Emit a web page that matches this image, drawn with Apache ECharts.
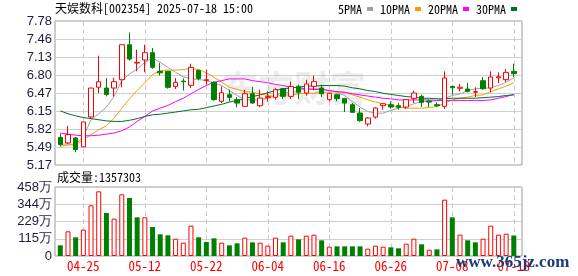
<!DOCTYPE html>
<html><head><meta charset="utf-8">
<script src="https://cdn.jsdelivr.net/npm/echarts@6/dist/echarts.min.js"></script>
<style>html,body{margin:0;padding:0;background:#fff}#c{width:578px;height:276px}</style>
</head><body><div id="c"></div><script>
const dates = ['04-22','04-23','04-24','04-25','04-28','04-29','04-30','05-06','05-07','05-08','05-09','05-12','05-13','05-14','05-15','05-16','05-19','05-20','05-21','05-22','05-23','05-26','05-27','05-28','05-29','05-30','06-03','06-04','06-05','06-06','06-09','06-10','06-11','06-12','06-13','06-16','06-17','06-18','06-19','06-20','06-23','06-24','06-25','06-26','06-27','06-30','07-01','07-02','07-03','07-04','07-07','07-08','07-09','07-10','07-11','07-14','07-15','07-16','07-17','07-18'];
const opens  = [5.67,5.57,5.66,5.50,6.04,6.58,6.565,6.565,6.716,7.35,7.018,7.073,7.205,6.867,6.867,6.595,6.69,6.613,6.885,6.70,6.668,6.324,6.444,6.354,6.233,6.462,6.245,6.39,6.396,6.553,6.414,6.595,6.475,6.595,6.565,6.354,6.444,6.372,6.263,6.112,5.913,6.04,6.245,6.263,6.245,6.22,6.378,6.414,6.33,6.263,6.233,6.595,6.56,6.547,6.49,6.698,6.565,6.75,6.716,6.867];
const closes = [5.54,5.72,5.45,5.95,6.565,6.68,6.45,6.68,7.35,7.09,7.03,7.205,6.94,6.84,6.577,6.668,6.68,6.94,6.74,6.716,6.354,6.48,6.396,6.293,6.462,6.293,6.384,6.41,6.535,6.414,6.595,6.487,6.638,6.68,6.462,6.47,6.372,6.293,6.124,5.973,6.022,6.203,6.28,6.221,6.215,6.354,6.475,6.305,6.31,6.245,6.747,6.57,6.58,6.505,6.50,6.553,6.765,6.77,6.849,6.825];
const lows   = [5.51,5.55,5.40,5.50,6.01,6.475,6.414,6.41,6.577,7.06,6.87,6.85,6.915,6.795,6.553,6.547,6.52,6.565,6.704,6.625,6.336,6.293,6.324,6.215,6.233,6.281,6.22,6.32,6.354,6.366,6.366,6.366,6.426,6.523,6.402,6.324,6.324,6.13,6.112,5.955,5.87,6.01,6.172,6.19,6.172,6.185,6.293,6.22,6.22,6.22,6.185,6.444,6.505,6.487,6.402,6.535,6.487,6.656,6.68,6.765];
const highs  = [5.74,5.88,5.68,5.95,6.57,7.15,6.746,6.75,7.35,7.57,7.26,7.35,7.29,7.018,6.867,6.746,6.74,7.006,6.897,6.897,6.686,6.595,6.535,6.402,6.535,6.583,6.535,6.505,6.565,6.565,6.686,6.625,6.716,6.79,6.625,6.475,6.462,6.372,6.293,6.203,6.04,6.22,6.293,6.323,6.293,6.354,6.517,6.444,6.354,6.305,6.867,6.61,6.638,6.656,6.577,6.764,6.867,6.85,6.91,7.006];
const ma5  = [5.55,5.55,5.545,5.69,5.99,6.10,6.22,6.41,6.70,6.82,6.91,7.03,7.11,7.03,6.94,6.85,6.77,6.73,6.72,6.70,6.66,6.61,6.52,6.43,6.35,6.35,6.35,6.38,6.43,6.50,6.47,6.52,6.55,6.55,6.55,6.52,6.49,6.43,6.32,6.22,6.14,6.11,6.11,6.16,6.20,6.23,6.28,6.32,6.32,6.34,6.38,6.43,6.46,6.52,6.55,6.56,6.57,6.61,6.67,6.75];
const ma10 = [5.51,5.53,5.54,5.63,5.72,5.81,5.88,6.02,6.20,6.37,6.52,6.66,6.81,6.88,6.89,6.89,6.90,6.92,6.90,6.84,6.76,6.67,6.58,6.54,6.50,6.49,6.46,6.43,6.41,6.44,6.44,6.46,6.47,6.47,6.49,6.49,6.50,6.49,6.44,6.40,6.35,6.31,6.28,6.25,6.22,6.20,6.20,6.20,6.21,6.23,6.29,6.35,6.38,6.40,6.43,6.44,6.50,6.55,6.60,6.66];
const ma20 = [5.75,5.73,5.71,5.70,5.70,5.71,5.73,5.75,5.79,5.86,5.96,6.05,6.15,6.20,6.25,6.32,6.38,6.46,6.54,6.61,6.67,6.70,6.73,6.73,6.73,6.70,6.68,6.66,6.63,6.61,6.58,6.57,6.55,6.54,6.54,6.52,6.50,6.49,6.46,6.44,6.42,6.40,6.38,6.37,6.35,6.35,6.35,6.35,6.35,6.34,6.34,6.34,6.34,6.34,6.34,6.34,6.35,6.38,6.41,6.45];
const ma30 = [6.15,6.10,6.06,6.03,6.01,5.99,5.97,5.96,5.96,5.98,6.01,6.05,6.08,6.09,6.11,6.13,6.15,6.17,6.18,6.21,6.24,6.27,6.31,6.34,6.37,6.41,6.44,6.48,6.52,6.55,6.57,6.58,6.60,6.60,6.61,6.61,6.61,6.60,6.57,6.55,6.52,6.50,6.47,6.45,6.43,6.41,6.40,6.38,6.38,6.37,6.37,6.38,6.38,6.38,6.38,6.39,6.40,6.41,6.43,6.44];
const volumes = [708000,1637000,1239000,1748000,3363000,4292000,2854000,2478000,4093000,3850000,2567000,2567000,1925000,1438000,1372000,1150000,885000,2013000,1239000,929000,1173000,885000,708000,841000,1217000,907000,885000,686000,1217000,907000,1350000,1106000,1350000,1416000,1040000,620000,642000,642000,642000,642000,487000,686000,620000,575000,509000,819000,1150000,774000,420000,442000,3739000,2567000,1416000,1040000,907000,1150000,2013000,1416000,1482000,1357303];
const volUp = [0,1,0,1,1,1,0,1,1,0,0,1,0,0,0,1,1,1,0,0,0,1,0,0,1,0,1,1,1,0,1,0,1,1,0,1,0,0,0,0,1,1,1,0,0,1,1,0,1,0,1,0,1,0,0,1,1,1,1,0];
const priceTickLabels = ['5.17','5.49','5.82','6.15','6.47','6.80','7.13','7.46','7.78'];
const volTickLabels = ['0','115万','229万','344万','458万'];
const labelDates = ['04-25','05-12','05-22','06-04','06-16','06-26','07-08','07-18'];
const maNames = ['5PMA','10PMA','20PMA','30PMA'];

const priceMin = 5.17, priceMax = 7.78, volMax = 4580000;
const priceTicks = priceTickLabels.map((_, k) => priceMin + k * (priceMax - priceMin) / (priceTickLabels.length - 1));
const RED = '#ff0000', GREEN = '#008000';
const MONO = "'Noto Sans Mono CJK SC','Noto Sans CJK SC',monospace";
const SANS = "'Liberation Sans',Arial,sans-serif";
const showDate = (i, v) => labelDates.indexOf(v === undefined ? dates[i] : v) >= 0;
const dashed = {show: true, interval: (i) => labelDates.indexOf(dates[i]) >= 0, lineStyle: {color: '#cccccc', type: [5, 3], width: 1}};

const chart = echarts.init(document.getElementById('c'), null, {renderer: 'canvas'});
const candleData = dates.map((d, i) => [opens[i], closes[i], lows[i], highs[i]]);
const volData = volumes.map((v, i) => ({value: v, itemStyle: volUp[i] ? {color: '#ffffff', borderColor: RED, borderWidth: 1} : {color: GREEN}}));
const maColors = ['#a0a0a0', '#f0a000', '#ff00ff', '#007030'];
const maData = [ma5, ma10, ma20, ma30];

chart.setOption({
  animation: false,
  backgroundColor: '#ffffff',
  title: [
    {text: '天娱数科[002354] 2025-07-18 15:00', left: 55, top: 2, padding: 0, textStyle: {fontSize: 12, fontWeight: 'normal', color: '#000', fontFamily: MONO}},
    {text: '成交量:' + volumes[volumes.length - 1], left: 57, top: 171, padding: 0, textStyle: {fontSize: 12, fontWeight: 'normal', color: '#000', fontFamily: MONO}}
  ],
  legend: {
    data: maNames.map((n) => ({name: n, icon: 'rect'})), left: 338, top: 3, padding: 0, align: 'right',
    itemWidth: 6, itemHeight: 4, itemGap: 7,
    textStyle: {fontSize: 12, color: '#000', fontFamily: MONO, padding: 0}
  },
  grid: [
    {left: 55, top: 21, width: 467, height: 144, show: true, borderColor: '#999999', borderWidth: 1, backgroundColor: 'transparent'},
    {left: 60.3, top: 21, width: 453.5, height: 144, show: false},
    {left: 55, top: 187, width: 467, height: 69, show: true, borderColor: '#999999', borderWidth: 1, backgroundColor: 'transparent'},
    {left: 60.3, top: 187, width: 453.5, height: 69, show: false}
  ],
  xAxis: [
    {gridIndex: 0, type: 'value', min: 0, max: 1, show: false},
    {gridIndex: 1, type: 'category', data: dates, boundaryGap: false, axisLine: {show: false}, axisTick: {show: false}, axisLabel: {show: false}, splitLine: dashed},
    {gridIndex: 2, type: 'value', min: 0, max: 1, show: false},
    {gridIndex: 3, type: 'category', data: dates, boundaryGap: false, axisLine: {show: false}, axisTick: {show: false},
      axisLabel: {interval: (i, v) => showDate(i, v), color: RED, fontSize: 13, fontFamily: MONO, margin: 4}, splitLine: dashed}
  ],
  yAxis: [
    {gridIndex: 0, type: 'value', min: priceMin, max: priceMax, axisLine: {show: false},
      axisTick: {show: false, customValues: priceTicks},
      axisLabel: {customValues: priceTicks, margin: 3, fontSize: 13, color: '#1c1c3c', fontFamily: SANS,
        formatter: (v) => { let k = 0, best = 1e9; priceTicks.forEach((t, j) => { if (Math.abs(t - v) < best) { best = Math.abs(t - v); k = j; } }); return priceTickLabels[k]; }},
      splitLine: {show: true, lineStyle: {color: '#d0d0d0', width: 1}}},
    {gridIndex: 1, type: 'value', min: priceMin, max: priceMax, show: false},
    {gridIndex: 2, type: 'value', min: 0, max: volMax, interval: volMax / 4, axisLine: {show: false}, axisTick: {show: false},
      axisLabel: {margin: 3, fontSize: 13, fontFamily: SANS, color: (v) => (v === 0 ? '#c06000' : '#1c1c3c'),
        formatter: (v) => volTickLabels[Math.round(v / (volMax / 4))]},
      splitLine: {show: true, lineStyle: {color: '#d0d0d0', width: 1}}},
    {gridIndex: 3, type: 'value', min: 0, max: volMax, show: false}
  ],
  graphic: [
    {type: 'text', left: 222, top: 70, z: 1, silent: true, style: {text: '东方财富', fill: 'rgba(150,150,150,0.18)', font: 'bold 36px "Noto Sans CJK SC"'}},
    {type: 'text', left: 456, top: 254, z: 100, silent: true, style: {text: 'www.365jz.com', fill: '#1b3c7a', font: 'bold 17px "Liberation Serif"'}}
  ],
  series: [
    ...maNames.map((n, k) => ({name: n, type: 'line', xAxisIndex: 1, yAxisIndex: 1, data: maData[k], showSymbol: false, symbol: 'none',
      lineStyle: {color: maColors[k], width: 1}, itemStyle: {color: maColors[k]}, z: 3})),
    {name: 'K', type: 'candlestick', xAxisIndex: 1, yAxisIndex: 1, data: candleData, barWidth: 5, clip: false, z: 5,
      itemStyle: {color: '#ffffff', color0: GREEN, borderColor: RED, borderColor0: GREEN, borderWidth: 1}},
    {name: 'VOL', type: 'bar', xAxisIndex: 3, yAxisIndex: 3, data: volData, barWidth: 5, clip: false, z: 5}
  ]
});
</script></body></html>
